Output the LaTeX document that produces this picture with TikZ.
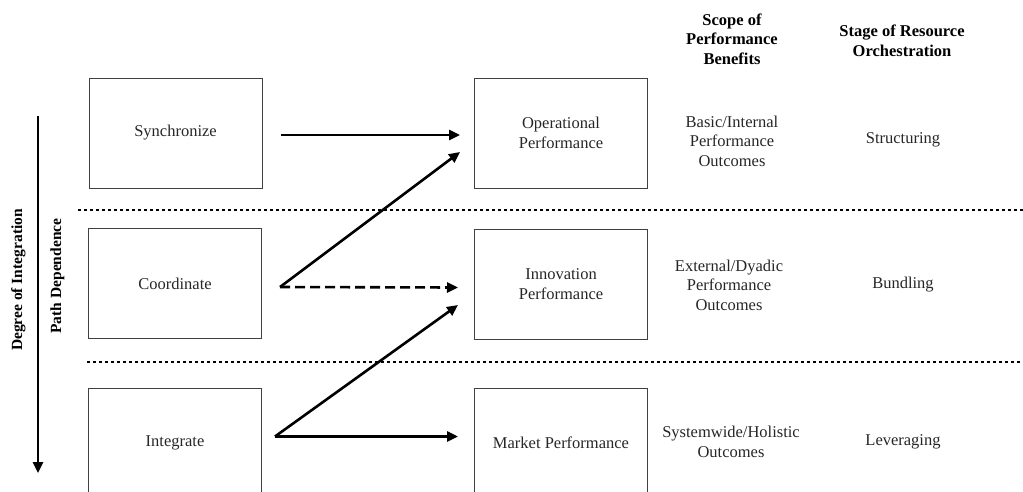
\documentclass[tikz,border=0pt]{standalone}
\usepackage{fontspec}
\setmainfont{Liberation Serif}
\usetikzlibrary{arrows.meta}
\begin{document}
\begin{tikzpicture}[x=1pt,y=-1pt,
  box/.style={draw=black!75,line width=1pt,minimum width=173pt,minimum height=110pt,inner sep=0pt,align=center,font=\fontsize{16.5}{20}\selectfont,text=black!85},
  lbl/.style={align=center,font=\fontsize{16.5}{19.5}\selectfont,text=black!85},
  hdr/.style={align=center,font=\fontsize{16.5}{19.5}\selectfont\bfseries},
  side/.style={rotate=90,font=\fontsize{15.5}{18}\selectfont\bfseries},
  arr/.style={line width=2.6pt,-{Triangle[length=11pt,width=10pt]}},
  sep/.style={line width=2.6pt,dash pattern=on 2.6pt off 3.4pt}]
\useasboundingbox (0,0) rectangle (1023,491);
\clip (0,0) rectangle (1023,491);
% headers
\node[hdr] (h1) at (732,39) {Scope of\\Performance\\Benefits};
\node[hdr] (h2) at (902,41) {Stage of Resource\\Orchestration};
% side labels
\node[side] (deg) at (18.5,280) {Degree of Integration};
\node[side] (path) at (57.5,276) {Path Dependence};
\coordinate (vtop) at (38,116);
\coordinate (vbot) at (38,473);
\draw[arr] (vtop) -- (vbot);
% separators
\coordinate (s1a) at (78,210); \coordinate (s1b) at (1023,210);
\coordinate (s2a) at (87,362); \coordinate (s2b) at (1023,362);
\draw[sep] (s1a) -- (s1b);
\draw[sep] (s2a) -- (s2b);
% left boxes
\node[box] (sync) at (175.5,133) {Synchronize};
\node[box] (coord) at (175,283.5) {Coordinate};
\node[box] (integ) at (175,443) {Integrate};
% right boxes
\node[box] (op) at (561,133) {Operational\\Performance};
\node[box] (inn) at (561,284) {Innovation\\Performance};
\node[box] (mkt) at (561,443) {Market Performance};
% row texts
\node[lbl] (r1a) at (732,141) {Basic/Internal\\Performance\\Outcomes};
\node[lbl] (r1b) at (903,140) {Structuring};
\node[lbl] (r2a) at (729,285) {External/Dyadic\\Performance\\Outcomes};
\node[lbl] (r2b) at (903,285) {Bundling};
\node[lbl] (r3a) at (731,442) {Systemwide/Holistic\\Outcomes};
\node[lbl] (r3b) at (903,442) {Leveraging};
% arrows
\draw[arr] ([xshift=18pt,yshift=-2pt]sync.east) -- ([xshift=-14pt,yshift=-2pt]op.west);
\draw[arr] ([xshift=18pt,yshift=-3.5pt]coord.east) -- ([xshift=-14pt,yshift=-19pt]op.west);
\draw[arr,dash pattern=on 10pt off 5pt] ([xshift=18pt,yshift=-3.5pt]coord.east) -- ([xshift=-16pt,yshift=-3.5pt]inn.west);
\draw[arr] ([xshift=13pt,yshift=6.5pt]integ.east) -- ([xshift=-16pt,yshift=-21pt]inn.west);
\draw[arr] ([xshift=13pt,yshift=6.5pt]integ.east) -- ([xshift=-16pt,yshift=6.5pt]mkt.west);
\end{tikzpicture}
\end{document}
